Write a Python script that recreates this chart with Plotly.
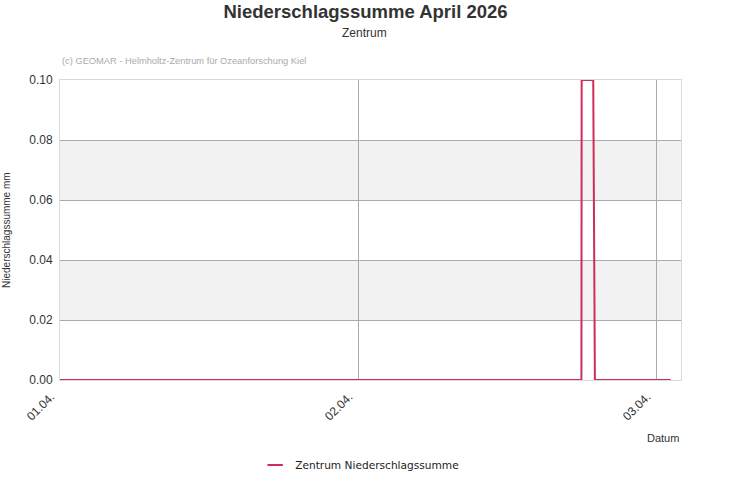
import plotly.graph_objects as go

# breakpoints of the 10-minute series
times = [
    "2026-04-01 00:00",
    "2026-04-02 17:59",
    "2026-04-02 18:00",
    "2026-04-02 18:56",
    "2026-04-02 19:04",
    "2026-04-03 01:10",
]
values = [0.0, 0.0, 0.1, 0.1, 0.0, 0.0]

x_range = ["2026-04-01 00:00", "2026-04-03 02:00"]
y_range = [0, 0.1]
bands = [(0.02, 0.04), (0.06, 0.08)]

title = "Niederschlagssumme April 2026"
subtitle = "Zentrum"
series_name = "Zentrum Niederschlagssumme"
y_title = "Niederschlagssumme mm"
x_title = "Datum"
credit = "(c) GEOMAR - Helmholtz-Zentrum für Ozeanforschung Kiel"

LINE = "#cf2d59"
TEXT = "#333333"
font = "Liberation Sans, Arial, sans-serif"

fig = go.Figure()
fig.add_scatter(
    x=times, y=values, mode="lines", showlegend=False, cliponaxis=False,
    line={"color": LINE, "width": 2},
)
# compact legend entry (short dash like the original)
fig.add_scatter(
    x=[None], y=[None], mode="markers", name=series_name,
    marker={"symbol": "line-ew", "size": 11, "line": {"color": LINE, "width": 2}},
)

for lo, hi in bands:
    fig.add_shape(
        type="rect", xref="paper", x0=0, x1=1, yref="y", y0=lo, y1=hi,
        fillcolor="#f2f2f2", line_width=0, layer="below",
    )

fig.update_layout(
    width=731, height=500,
    margin={"l": 60, "r": 50, "t": 80, "b": 120, "autoexpand": False},
    paper_bgcolor="white", plot_bgcolor="white",
    font={"family": font, "size": 12, "color": TEXT},
    title={
        "text": f"<b>{title}</b>", "x": 0.5, "xref": "container", "xanchor": "center",
        "y": 0.976, "yanchor": "middle", "font": {"size": 18.5, "color": TEXT},
    },
    showlegend=True,
    legend={
        "orientation": "h", "xref": "container", "x": 0.492, "xanchor": "center",
        "y": -0.283, "yanchor": "middle",
        "font": {"family": "DejaVu Sans, Verdana, sans-serif", "size": 10.6, "color": "#222222"},
    },
    xaxis={
        "type": "date", "range": x_range, "tick0": "2026-04-01", "dtick": 86400000,
        "tickformat": "%d.%m.", "tickangle": -45, "ticks": "",
        "ticklabelshift": -9, "ticklabelstandoff": 4,
        "showgrid": True, "gridcolor": "#aaaaaa", "gridwidth": 1,
        "showline": True, "mirror": True, "linecolor": "#d9d9d9", "linewidth": 1,
        "zeroline": False, "tickfont": {"size": 12, "color": TEXT},
    },
    yaxis={
        "range": y_range, "dtick": 0.02, "tickformat": ".2f", "ticks": "",
        "showgrid": True, "gridcolor": "#aaaaaa", "gridwidth": 1,
        "showline": True, "mirror": True, "linecolor": "#d9d9d9", "linewidth": 1,
        "zeroline": False, "ticklabelstandoff": 4,
        "tickfont": {"size": 12, "color": TEXT},
    },
    annotations=[
        {"text": subtitle, "xref": "paper", "yref": "paper", "x": 0.491, "y": 1.157,
         "xanchor": "center", "yanchor": "middle", "showarrow": False,
         "font": {"size": 12, "color": TEXT}},
        {"text": credit, "xref": "paper", "yref": "paper", "x": 0.0, "y": 1.063,
         "xanchor": "left", "yanchor": "middle", "showarrow": False,
         "font": {"size": 9.3, "color": "#aaaaaa"}},
        {"text": y_title, "xref": "paper", "yref": "paper", "x": -0.087, "y": 0.5,
         "xanchor": "center", "yanchor": "middle", "textangle": -90, "showarrow": False,
         "font": {"size": 10, "color": TEXT}},
        {"text": x_title, "xref": "paper", "yref": "paper", "x": 1.0, "y": -0.193,
         "xanchor": "right", "yanchor": "middle", "showarrow": False,
         "font": {"size": 11, "color": TEXT}},
    ],
)

# the page's default 8px body margin would push everything down and right
fig.write_html(
    "out.html",
    config={"displayModeBar": False},
    post_script="document.body.style.margin = '0';",
)
